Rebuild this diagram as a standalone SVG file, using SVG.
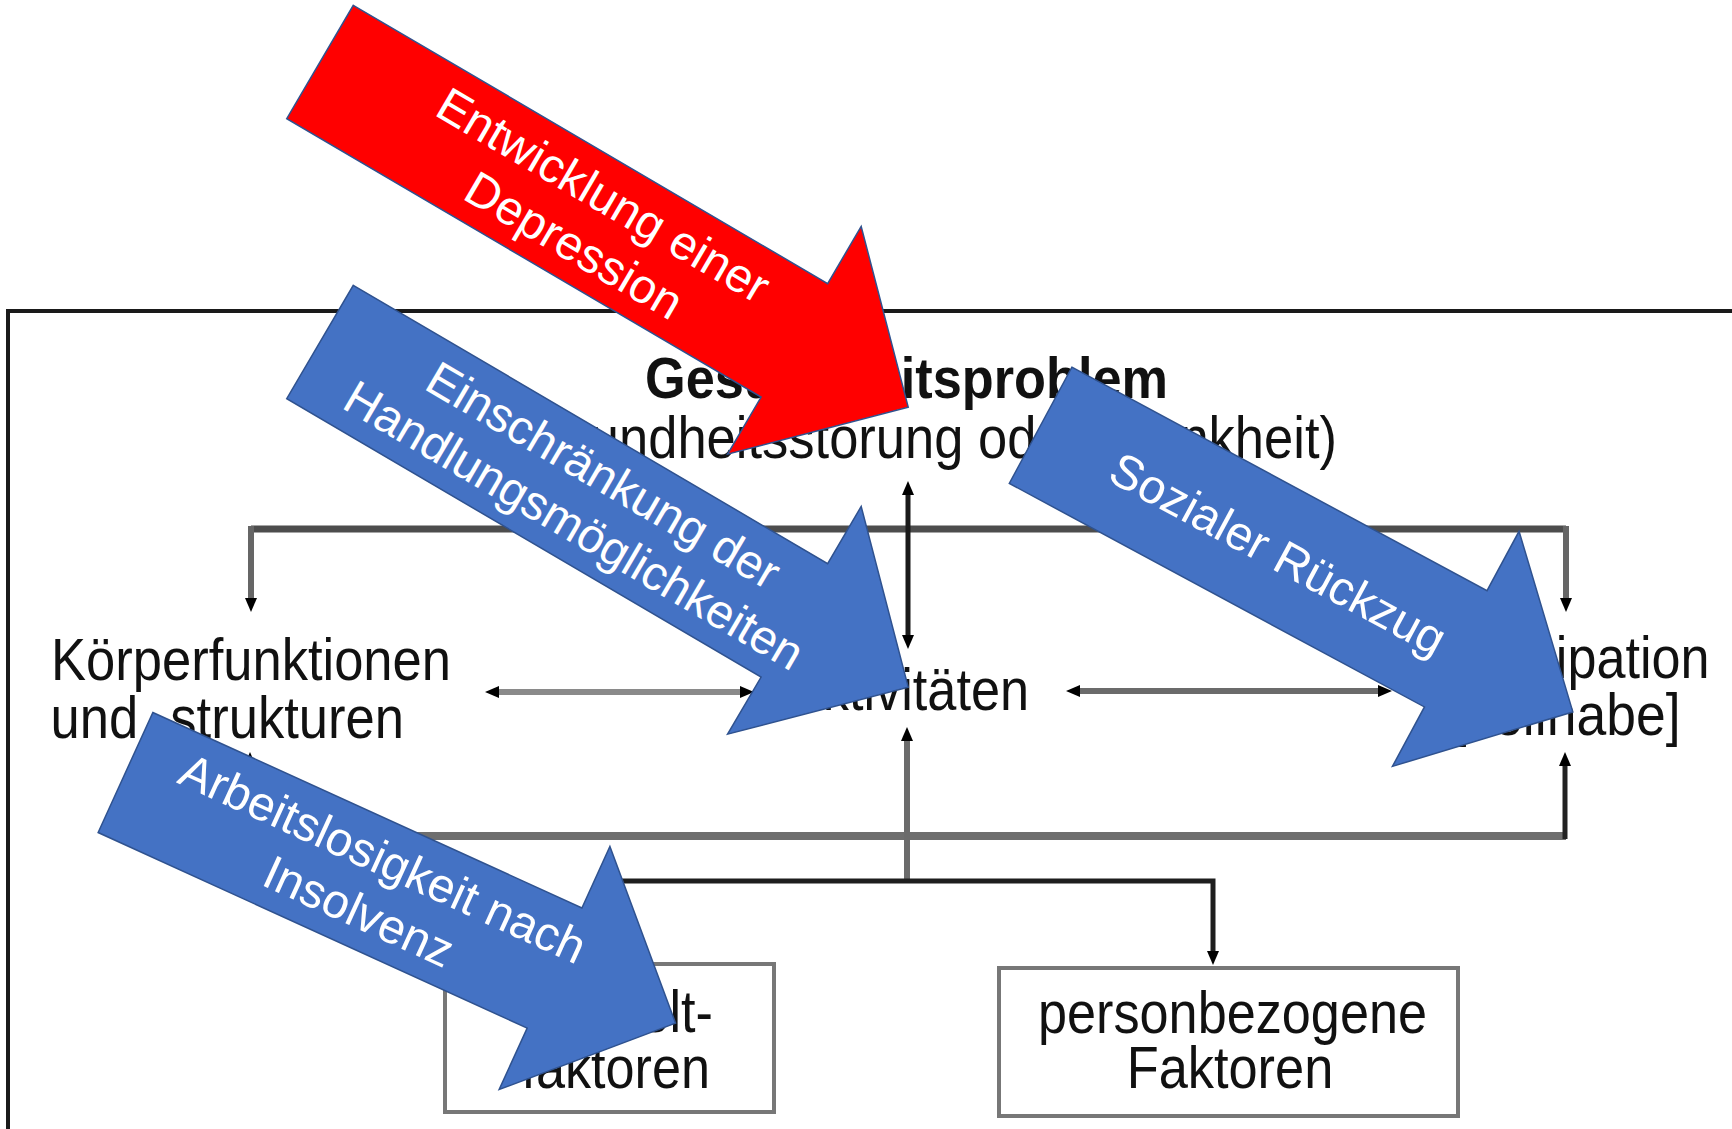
<svg xmlns="http://www.w3.org/2000/svg" width="1732" height="1129" viewBox="0 0 1732 1129">
<style>
.t{font-family:"Liberation Sans",Arial,sans-serif;fill:#111;font-size:59px}
.b{font-weight:bold;font-size:57px}
.w{font-family:"Liberation Sans",Arial,sans-serif;fill:#fff;font-size:48px;text-anchor:middle}
.ln{fill:none;stroke-linejoin:miter;stroke-linecap:butt}
.box{fill:#fff;stroke:#777;stroke-width:4}
.red{fill:#ff0000;stroke:#2f528f;stroke-width:1.5}
.blue{fill:#4472c4;stroke:#2f528f;stroke-width:1.5}
</style>
<defs>
<marker id="ah" viewBox="0 0 14 12" refX="4" refY="6" markerWidth="14" markerHeight="12" markerUnits="userSpaceOnUse" orient="auto-start-reverse">
<path d="M0,0 L14,6 L0,12 Z" fill="#000"/>
</marker>
<path id="arrA" d="M0,-65.75 L550,-65.75 L550,-132 L682,0 L550,132 L550,65.75 L0,65.75 Z"/>
<path id="arrB" d="M0,-66 L471.5,-66 L471.5,-133.5 L604.5,0 L471.5,133.5 L471.5,66 L0,66 Z"/>
</defs>
<rect width="1732" height="1129" fill="#fff"/>
<g id="frame">
<rect x="8" y="311" width="1800" height="900" fill="none" stroke="#1a1a1a" stroke-width="4"/>
</g>
<g id="connectors">
<path class="ln" d="M251,529 H1566" stroke="#4d4d4d" stroke-width="7"/>
<path class="ln" d="M251,526 V602" stroke="#666" stroke-width="6" marker-end="url(#ah)"/>
<path class="ln" d="M1566,526 V602" stroke="#666" stroke-width="6" marker-end="url(#ah)"/>
<path class="ln" d="M908,491 V639" stroke="#1a1a1a" stroke-width="5" marker-start="url(#ah)" marker-end="url(#ah)"/>
<path class="ln" d="M495,692 H744" stroke="#8a8a8a" stroke-width="6" marker-start="url(#ah)" marker-end="url(#ah)"/>
<path class="ln" d="M1076,691 H1382" stroke="#6b6b6b" stroke-width="6" marker-start="url(#ah)" marker-end="url(#ah)"/>
<path class="ln" d="M250,836 H1566" stroke="#6e6e6e" stroke-width="8"/>
<path class="ln" d="M250,839 V762" stroke="#222" stroke-width="5" marker-end="url(#ah)"/>
<path class="ln" d="M1565,839 V762" stroke="#222" stroke-width="5" marker-end="url(#ah)"/>
<path class="ln" d="M907,883 V737" stroke="#6b6b6b" stroke-width="6" marker-end="url(#ah)"/>
<path class="ln" d="M600,945 V881 H1213 V955" stroke="#1e1e1e" stroke-width="5" marker-start="url(#ah)" marker-end="url(#ah)"/>
</g>
<g id="node-gesundheitsproblem">
<text class="t b" x="645" y="398" textLength="523" lengthAdjust="spacingAndGlyphs">Gesundheitsproblem</text>
<text class="t" x="476" y="458" textLength="861" lengthAdjust="spacingAndGlyphs">(Gesundheitsstörung oder Krankheit)</text>
</g>
<g id="node-koerperfunktionen">
<text class="t" x="51" y="680" textLength="400" lengthAdjust="spacingAndGlyphs">Körperfunktionen</text>
<text class="t" x="50.5" y="738" textLength="353.5" lengthAdjust="spacingAndGlyphs">und -strukturen</text>
</g>
<g id="node-aktivitaeten">
<text class="t" x="788" y="710" textLength="241" lengthAdjust="spacingAndGlyphs">Aktivitäten</text>
</g>
<g id="node-partizipation">
<text class="t" x="1422.5" y="678" textLength="287" lengthAdjust="spacingAndGlyphs">Partizipation</text>
<text class="t" x="1451.5" y="735" textLength="229" lengthAdjust="spacingAndGlyphs">[Teilhabe]</text>
</g>
<g id="node-umweltfaktoren">
<rect class="box" x="445" y="964" width="329" height="148"/>
<text class="t" x="521.6" y="1032" textLength="191.4" lengthAdjust="spacingAndGlyphs">Umwelt-</text>
<text class="t" x="521.4" y="1088" textLength="188.6" lengthAdjust="spacingAndGlyphs">faktoren</text>
</g>
<g id="node-personbezogene">
<rect class="box" x="999" y="968" width="459" height="148"/>
<text class="t" x="1038" y="1033" textLength="389" lengthAdjust="spacingAndGlyphs">personbezogene</text>
<text class="t" x="1126.7" y="1088" textLength="206.6" lengthAdjust="spacingAndGlyphs">Faktoren</text>
</g>
<g id="arrow-depression" transform="translate(320,62) rotate(30.4)">
<use href="#arrA" class="red"/>
<text class="w" x="312" y="-12">Entwicklung einer</text>
<text class="w" x="312" y="46">Depression</text>
</g>
<g id="arrow-handlung" transform="translate(320,342) rotate(30.4)">
<use href="#arrA" class="blue"/>
<text class="w" x="312" y="-12">Einschränkung der</text>
<text class="w" x="312" y="46">Handlungsmöglichkeiten</text>
</g>
<g id="arrow-rueckzug" transform="translate(1040.6,425.3) rotate(28.3)">
<use href="#arrB" class="blue"/>
<text class="w" x="270" y="17">Sozialer Rückzug</text>
</g>
<g id="arrow-arbeitslosigkeit" transform="translate(125.5,772.5) rotate(24.5)">
<use href="#arrB" class="blue"/>
<text class="w" x="270" y="-12">Arbeitslosigkeit nach</text>
<text class="w" x="270" y="46">Insolvenz</text>
</g>
</svg>
